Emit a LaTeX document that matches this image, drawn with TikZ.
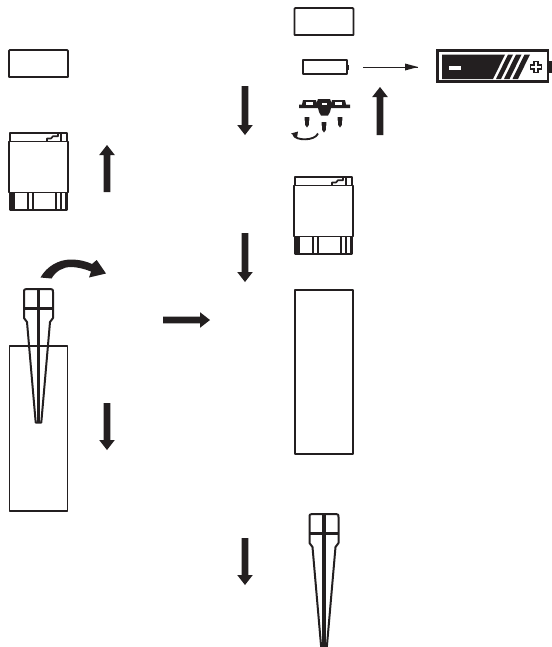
\documentclass[tikz,border=0pt]{standalone}
\definecolor{ink}{HTML}{231F20}
\tikzset{
  px/.style={x=0.75pt,y=-0.75pt},
  ln/.style={draw=ink,line width=1.25pt,line join=round},
  thin line/.style={draw=ink,line width=0.75pt},
  pics/blockarrow/.style={code={
    % drawn pointing down from (0,0), length #1
    \fill[ink] (-3.4,0) -- (3.4,0) -- (3.4,#1-10) -- (7.8,#1-10) -- (0,#1) -- (-7.8,#1-10) -- (-3.4,#1-10) -- cycle;
  }},
  pics/capbox/.style={code={
    \draw[ln,line width=1.4pt] (0.8,0) -- (58,0) -- (59,1) -- (59,27) -- (0,27) -- (0,1) -- cycle;
  }},
  pics/housing/.style={code={
    \draw[ln] (1,0) rectangle (58,8.5);
    \draw[ln] (0,8.5) rectangle (59,59.5);
    \draw[ln] (38,8.5) -- (38,5.5) -- (42,5.5) -- (44,3.2) -- (49,3.2) -- (49,0);
    \draw[ln,line width=0.8pt] (52,0) -- (52,8.5);
    \draw[ln,line width=1.6pt] (1.5,59.5) -- (1.5,77) -- (57.5,77) -- (57.5,59.5);
    \draw[ln,line width=1.6pt] (4.5,59.5) -- (4.5,77);
    \draw[ln] (19,59.5) -- (19,77);
    \draw[ln] (24,59.5) -- (24,77);
    \draw[ln,line width=1.6pt] (47,59.5) -- (47,77);
    \draw[ln,line width=0.8pt] (52,59.5) -- (52,77);
  }},
  pics/spike/.style={code={
    % origin at head top centre
    \draw[ln,line width=1.5pt] (-12,0) -- (12,0) .. controls (14.5,0) and (14.5,1) .. (14.5,3)
      -- (14.5,29) -- (11.5,33) -- (2.8,133.5) -- (-2.8,133.5) -- (-11.5,33) -- (-14.5,29) -- (-14.5,3)
      .. controls (-14.5,1) and (-14.5,0) .. (-12,0) -- cycle;
    \draw[ink,line width=2pt] (-15,19.5) -- (15,19.5);
    \fill[ink] (-1.9,0) -- (1.9,0) -- (1.9,133.5) -- (-1.9,133.5) -- cycle;
  }}
}
\begin{document}
\begin{tikzpicture}[px]
\useasboundingbox (0,0) rectangle (552,647);
% left column
\pic at (9,50) {capbox};
\pic at (9,133) {housing};
\pic at (38.5,289) {spike};
\draw[ln] (9.5,346) rectangle (67.5,511);
% centre column
\pic at (294.5,8) {capbox};
\draw[ln,line width=1.5pt] (302.5,60) rectangle (346.5,74);
\fill[ink] (346.5,64.5) rectangle (349,69.5);
% screw plate
\fill[ink] (299,104.5) -- (302,104.5) -- (303,100) -- (316,100) -- (316.5,103) -- (318,99) -- (330,99) -- (331.5,103) -- (332,100) -- (345,100) -- (346,104.5) -- (350,104.5) -- (350,108) -- (331,108) -- (330,112) -- (328,115.5) -- (321,115.5) -- (319,112) -- (318,108) -- (299,108) -- cycle;
\fill[white] (306,102) rectangle (313,104.5);
\fill[white] (335,102) rectangle (342,104.5);
\fill[white] (322,102.5) rectangle (327,105);
\foreach \sx/\sy in {307/117,324/122,340/117}{
  \fill[ink] (\sx-2.4,\sy) -- (\sx+2.4,\sy) -- (\sx+2.4,\sy+3.5) -- (\sx+1.8,\sy+3.5) -- (\sx+1.8,\sy+8) -- (\sx,\sy+10.5) -- (\sx-1.8,\sy+8) -- (\sx-1.8,\sy+3.5) -- (\sx-2.4,\sy+3.5) -- cycle;
}
\draw[ink,line width=1.4pt] (318,133.5) .. controls (315,141) and (296,141) .. (293.5,135);
\fill[ink] (291,133.5) -- (298,131.5) -- (297,137.5) -- cycle;
\pic at (294,177) {housing};
\draw[ln] (295,290) rectangle (353,454);
\pic at (324,514) {spike};
% block arrows
\pic at (245,86) {blockarrow=49};
\pic at (245,233) {blockarrow=49};
\pic at (245,538) {blockarrow=47};
\pic at (107,403) {blockarrow=47};
\pic[rotate=180] at (380,135) {blockarrow=48};
\pic[rotate=180] at (107,192) {blockarrow=47};
\pic[rotate=90] at (163,320) {blockarrow=47};
% curved arrow
\fill[ink] (40.5,277.5) .. controls (47,266) and (59,259.5) .. (71,259.5) .. controls (79,259.5) and (87,261.5) .. (92,264) -- (96.7,260) -- (106,273.5) -- (89,277.5) -- (91,271.5) .. controls (85,269) and (77,267) .. (71,267) .. controls (63,267) and (56,271) .. (51.5,278.5) -- cycle;
% thin arrow to battery
\coordinate (battL) at (363,67);
\coordinate (battR) at (418,67);
\draw[thin line] (battL) -- (battR);
\fill[ink] (405,63.5) -- (418,67) -- (405,70.5) -- cycle;
% big battery
\draw[ink,line width=1.6pt] (437.5,50.5) rectangle (548,81.5);
\fill[ink] (548.5,61) rectangle (552,73);
\fill[ink] (442,54.5) -- (505,54.5) -- (493,79) -- (442,79) -- cycle;
\fill[ink] (508,54.5) -- (513,54.5) -- (501,79) -- (496,79) -- cycle;
\fill[ink] (516,54.5) -- (521.5,54.5) -- (509.5,79) -- (504,79) -- cycle;
\fill[ink] (524.5,54.5) -- (530,54.5) -- (518,79) -- (512.5,79) -- cycle;
\fill[white] (449,66) rectangle (461,69.5);
\draw[ink,line width=0.8pt] (534,61.5) -- (538,61.5) -- (538,65) -- (541.5,65) -- (541.5,69) -- (538,69) -- (538,72.5) -- (534,72.5) -- (534,69) -- (530.5,69) -- (530.5,65) -- (534,65) -- cycle;
\end{tikzpicture}
\end{document}
